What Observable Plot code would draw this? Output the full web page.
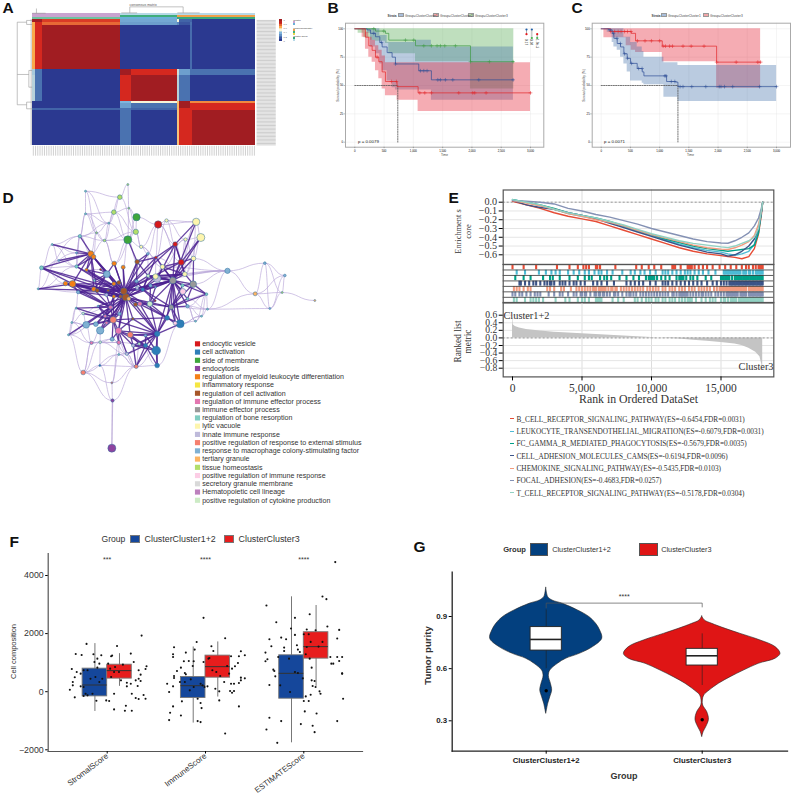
<!DOCTYPE html>
<html><head><meta charset="utf-8">
<script src="https://cdn.jsdelivr.net/npm/d3@7"></script>
<script src="https://cdn.jsdelivr.net/npm/@observablehq/plot@0.6"></script>
<style>
html,body{margin:0;padding:0;background:#fff}
#root{position:relative;width:792px;height:796px;overflow:hidden;font-family:"Liberation Sans",Arial,sans-serif}
#root svg{position:absolute;overflow:visible}
.sw{position:absolute;box-sizing:border-box}
</style></head><body><div id="root"></div>
<script>
// ---------- A: consensus matrix ----------
const heatXEdges=[0,1.3,4.5,39.5,44.3,65,66,70.7,71.7,100];
const heatYEdges=[0,1.9,4.5,39.5,44.3,64.7,66.3,70.8,72.1,100];
const heatValues=[
[1,1,.82,.32,.32,.5,.15,.15,0],
[.65,.85,.75,.3,.3,.25,.1,.2,0],
[.65,.85,1,0,0,0,0,.18,0],
[.4,.2,0,1,.85,.45,.3,.2,.2],
[.42,.2,0,.85,1,.42,.2,0,0],
[0,0,0,.35,.5,.6,1,.7,.7],
[0,0,0,.3,.2,.62,1,.85,.85],
[.15,.15,.15,.2,.15,.62,.85,.85,.85],
[0,0,0,.2,0,.6,.85,.85,1]];
const heatDomain=[0,.2,.35,.5,.65,.85,1];
const heatColors=["#2b3990","#4a72b0","#7fb5dc","#f7f4d8","#f9a94b","#d5281f","#a11d22"];
const annotBands=[[0,39.5],[39.5,65],[65,100]];
const annotRows=[[-4.8,-3.4],[-3.4,-1.6],[-1.6,0]];
const annotColors=[["#c9a3d0","#b7d9e8","#b7d9e8"],["#c9a3d0","#3fae7c","#f0a04a"],["#6fc2a0","#6ab0d8","#3aa87a"]];
const leftDendro=[[-6.7,1.9,-6.7,67.6],[-6.7,1.9,-2.5,1.9],[-2.5,.5,-2.5,3.7],[-2.5,.5,0,.5],[-2.5,3.7,0,3.7],[-6.7,43.5,-1.5,43.5],[-1.5,40.3,-1.5,53.6],[-1.5,40.3,0,40.3],[-1.5,53.6,0,53.6],[-6.7,67.6,-2.5,67.6],[-2.5,65.5,-2.5,70.8],[-2.5,65.5,0,65.5],[-2.5,70.8,0,70.8]];
const topDendro=[[43.7,-10.3,67.6,-10.3],[43.7,-10.3,43.7,-5.5],[67.6,-10.3,67.6,-5.5],[39.9,-5.5,47,-5.5],[65,-5.5,70.1,-5.5],[1.9,-9,1.9,-5.2],[0,-5.2,6,-5.2],[70.1,-5.5,75,-5.5]];
const rowIds=d3.range(0.5,100,1.1);
const colIds=d3.range(0.5,100,1);
const heatLegendVals=[1,.8,.6,.4,.2,0];
const heatLegendStops=[1,.92,.85,.75,.65,.55,.5,.42,.35,.27,.2,.1,0];
// ---------- B, C: survival ----------
const kmTicks=[0,500,1000,1500,2000,2500,3000];
const kmYTicks=[0,25,50,75,100];
const bBlueT=[0,211,267,353,427,467,552,637,694,1036,1092,1308,2708];
const bBlueS=[100,99,96,93,88,84,79,75,69,69,63,55,55];
const bBlueHi=[100,100,100,100,94,94,88,88,88,90,90,84,84];
const bBlueLo=[100,96,84,78,69,63,54,48,46,46,46,37,37];
const bBlueCens=[324,455,694,1121,1178,1234,1417,1462,1547,1673,2117,2703];
const bRedT=[0,125,182,239,296,353,410,467,523,722,1081,3000];
const bRedS=[100,100,92.6,85,81,75,71,62,53.5,49,43.5,43.5];
const bRedHi=[100,100,97,92.6,90,85,81,76,70,70,70,70];
const bRedLo=[100,92.6,82,75,70.6,63,56,47,41,37,27,27];
const bRedCens=[381,626,711,1110,1195,1309,1775,2014,2048,2242,3000];
const bGreenT=[0,57,154,268,353,523,580,1036,1975,2715];
const bGreenS=[100,100,100,100,98,96,90,85,71,71];
const bGreenHi=[100,100,100,100,100,100,100,100,100,100];
const bGreenLo=[100,96,92,90,89,87,78,71,47,47];
const bGreenCens=[324,495,865,1007,1178,1309,1405,1462,1536,1718,1975,2299,2703];
const cRedT=[0,46,160,388,428,514,588,1045,1975,2728];
const cRedS=[100,100,97.6,97.6,97.6,96,89.4,84.7,70.6,70.6];
const cRedHi=[100,100,100,100,100,100,100,100,100,100];
const cRedLo=[100,92,92,92,85,81,79,71,47.6,47.6];
const cRedCens=[160,230,290,340,400,450,510,620,750,860,1000,1060,1100,1170,1220,1400,1540,1760,1975,2310,2680,2728];
const cBlueT=[0,103,131,188,217,274,331,388,445,502,616,702,731,1073,1119,1273,1313,3002];
const cBlueS=[100,100,99,96,91.6,87,84,78,74,69.5,65,62,58.5,58.5,53.5,53,49,49];
const cBlueHi=[100,100,100,100,100,100,100,92.6,92.6,88,84,80,75,70,70,70,67.6,67.6];
const cBlueLo=[100,97,97,88,84,81,75,69,62,54,54,52,50.6,39.7,39.7,39.7,36,36];
const cBlueCens=[150,210,270,330,400,450,520,640,700,1090,1110,1200,1260,1350,1400,1550,1790,2020,2050,2110,2250,2710,3000];
// ---------- D: enrichment network ----------
const termNames=["endocytic vesicle","cell activation","side of membrane","endocytosis","regulation of myeloid leukocyte differentiation","inflammatory response","regulation of cell activation","regulation of immune effector process","immune effector process","regulation of bone resorption","lytic vacuole","innate immune response","positive regulation of response to external stimulus","response to macrophage colony-stimulating factor","tertiary granule","tissue homeostasis","positive regulation of immune response","secretory granule membrane","Hematopoietic cell lineage","positive regulation of cytokine production"];
const termColors=["#d7191c","#2e7eb8","#3fa63c","#8e44a0","#f47f16","#f5e642","#a65628","#e377b0","#999999","#80cdc1","#fdf5ad","#bebada","#f5806f","#80b1d3","#fdb462","#b3de69","#fccde5","#d9d9d9","#bc80bd","#ccebc5"];
const nodes=[
[225,2,3,9],[352,-18,3,15],[328,20,7,15],[355,53,3,15],[310,65,7,15],[225,70,3,9],[378,80,11,2],[443,102,11,0],[557,94,11,10],[468,90,5,10],
[376,124,8,15],[295,98,3,9],[258,127,3,15],[352,148,12,2],[282,150,4,15],[208,137,5,9],[571,141,12,10],[525,147,5,10],[494,161,7,0],[392,169,5,10],
[125,162,3,9],[241,190,9,4],[249,199,7,4],[198,187,3,13],[436,201,4,0],[412,190,4,13],[549,204,7,10],[512,215,9,0],[145,210,3,13],[93,232,6,9],
[198,228,5,9],[228,238,5,4],[311,219,7,4],[338,230,6,4],[380,214,7,6],[456,229,7,10],[523,251,7,10],[651,241,8,13],[413,256,5,19],[435,258,8,10],
[440,265,11,11],[763,218,4,13],[823,255,4,13],[734,310,6,14],[815,306,3,15],[778,354,3,13],[913,330,3,14],[591,356,3,9],[588,311,4,9],[83,295,3,9],
[165,279,7,4],[186,280,10,4],[203,305,5,13],[289,251,10,13],[270,237,3,0],[252,270,3,9],[325,276,6,6],[310,280,6,4],[250,296,7,4],[260,300,6,6],
[293,300,4,6],[340,302,10,6],[346,320,11,6],[330,318,5,6],[310,318,5,4],[355,325,6,14],[288,313,5,11],[375,342,6,6],[388,340,7,7],[418,340,8,19],
[434,331,3,0],[397,297,5,1],[378,272,5,13],[380,292,5,11],[420,285,5,13],[435,290,3,13],[487,270,10,8],[548,281,10,8],[516,285,5,9],[517,303,9,16],
[531,325,4,9],[482,350,7,8],[531,347,5,13],[470,382,7,1],[509,400,12,1],[494,398,6,16],[555,392,3,9],[573,377,3,9],[440,430,8,1],[437,480,13,1],
[405,465,6,1],[440,525,7,1],[377,528,6,12],[218,546,7,12],[268,525,3,1],[304,577,3,12],[306,630,5,3],[304,773,12,3],[300,350,6,7],[197,353,3,9],
[263,347,3,13],[218,369,4,19],[308,388,10,12],[284,377,5,7],[327,370,5,13],[367,385,4,6],[184,396,3,9],[227,403,10,13],[256,401,7,13],[288,397,5,7],
[269,420,11,13],[324,421,10,7],[359,433,9,12],[174,433,3,9],[243,457,5,7],[269,455,4,19],[305,446,6,13],[325,456,6,7],[349,490,5,11],[325,492,3,9],
[368,465,5,11],[386,460,4,19],[405,435,4,13]];
const strongHubs=[
[62,[51,52,57,58,59,60,64,66,98,100,103,104,105,108,109,111,112,68,69,71,73,76,81,83,88,34,32,33,53,56,50,67,72,74,102,110,29,30,31,21]],
[61,[50,51,55,31,21,30,53,32,33,34,72,74,76,38,39,98,102,111,83,71,58,52,29,49,22,27,18,24,25]],
[76,[77,78,79,80,81,82,84,83,27,26,36,18,48,71,75,74,88,85,38,35,73,69,16,40,39,8,24]],
[88,[83,84,89,90,91,105,112,120,121,122,102,111,69,81,68,67]],
[102,[98,103,107,108,109,110,111,116,117,99,101,100,104,105,64]],
[98,[52,99,100,107,108,110,51,58,64,66,50,113]],
[81,[77,82,84,85,71,69,80,48,78,79]],
[21,[29,20,28,23,30,31,53,22,58,51,59]],[22,[15,30,31]],[51,[49,50,52,29,58,59,57]],[27,[16,18,35,36,26]],[18,[8,24,36,40]],[34,[24,25,13,38,72]],[89,[91,90,120,122]],[92,[90,88,120]],[53,[55,31,54,32,58,59]],[77,[48,36,78,26,80]],[111,[116,117,112,105,90,118,120]],[112,[120,121,90,122]],
[58,[59,60,64,57,52]],[64,[66,57,60,103]],[71,[72,73,74,75,38,39,40,24,70]],[69,[70,67,68,74,75,83]],[83,[84,85,105]],[103,[109,100,104]],[90,[118,120,121,91,122]],[36,[39,40,38,35]],[40,[35,38,39]]];
const weakEdges=[[0,5],[0,2],[0,11],[1,2],[1,3],[2,4],[3,4],[2,11],[4,5],[5,11],[4,11],[5,12],[11,12],[12,14],[14,15],[15,5],[14,4],[4,10],[3,6],[10,14],[10,13],[6,7],[7,9],[9,8],[8,16],[8,7],[7,18],[9,18],[18,17],[17,16],[16,26],[17,26],[27,26],[8,27],[6,10],[13,19],[19,10],[19,25],[25,7],[7,24],[35,24],[35,39],[39,36],[36,37],[26,37],[37,40],[37,41],[37,43],[41,42],[41,43],[41,45],[42,43],[42,45],[43,44],[44,45],[43,45],[44,46],[43,47],[47,48],[37,77],[20,29],[20,28],[28,29],[20,23],[23,15],[28,30],[29,49],[49,50],[29,30],[21,28],[15,23],[13,32],[13,34],[14,32],[12,22],[54,31],[55,31],[52,99],[99,106],[106,113],[107,113],[107,106],[99,101],[101,107],[113,114],[114,115],[115,116],[116,117],[114,93],[93,94],[94,92],[93,95],[92,95],[95,96],[96,93],[96,92],[118,119],[119,92],[118,92],[120,92],[117,118],[120,121],[89,90],[87,86],[86,84],[87,82],[47,82],[47,87],[48,82],[48,77],[80,48],[84,91],[85,83],[64,60],[11,15],[14,13],[15,21],[23,30],[12,15],[19,35],[24,39],[25,38],[35,36],[16,36],[18,36],[17,36],[27,36],[37,38],[35,37],[100,101],[101,98],[106,107],[108,113],[110,114],[114,116],[115,117],[116,118],[118,90],[119,117],[93,114],[93,115],[92,117],[92,121],[94,115],[86,82],[47,81],[87,84],[33,13],[32,14],[10,19],[96,94],
[0,12],[5,14],[2,10],[3,10],[3,13],[4,13],[11,14],[11,13],[12,21],[14,21],[15,29],[15,30],[5,15],[23,29],[20,30],[20,15],[28,49],[49,52],[49,30],[50,29],[10,32],[19,24],[6,13],[7,19],[7,27],[9,17],[9,24],[8,17],[8,26],[16,27],[17,27],[17,35],[26,36],[26,35],[24,36],[37,39],[37,47],[41,44],[42,44],[45,47],[48,87],[48,86],[47,80],[82,86],[84,87],[99,113],[106,114],[101,106],[107,114],[110,115],[93,113],[93,119],[94,119],[95,119],[95,117],[92,118],[92,119],[117,121],[118,121],[115,118],[91,121],[91,92],[89,92],[114,117]];
const lineageEdge=[[96,97]];
// ---------- E: GSEA ----------
const gseaTerms=["B_CELL_RECEPTOR_SIGNALING_PATHWAY(ES=-0.6454,FDR=0.0031)","LEUKOCYTE_TRANSENDOTHELIAL_MIGRATION(ES=-0.6079,FDR=0.0031)","FC_GAMMA_R_MEDIATED_PHAGOCYTOSIS(ES=-0.5679,FDR=0.0035)","CELL_ADHESION_MOLECULES_CAMS(ES=-0.6194,FDR=0.0096)","CHEMOKINE_SIGNALING_PATHWAY(ES=-0.5435,FDR=0.0103)","FOCAL_ADHESION(ES=-0.4683,FDR=0.0257)","T_CELL_RECEPTOR_SIGNALING_PATHWAY(ES=-0.5178,FDR=0.0304)"];
const gseaColors=["#e64b35","#4dbbd5","#00a087","#3c5488","#f39b7f","#8491b4","#91d1c2"];
const esRanks=[0,1000,2000,3000,4000,5000,6000,7000,8000,9000,10000,11000,12000,13000,14000,15000,15500,16000,16500,17000,17400,17700,17900,18000];
const esBcell=[.01,-.03,-.07,-.12,-.16,-.19,-.22,-.27,-.32,-.37,-.42,-.47,-.52,-.56,-.59,-.61,-.62,-.63,-.645,-.62,-.53,-.36,-.15,0];
const esLeuko=[.03,0,-.04,-.08,-.13,-.16,-.19,-.23,-.28,-.33,-.38,-.43,-.48,-.52,-.55,-.57,-.59,-.605,-.59,-.56,-.48,-.32,-.12,0];
const esFc=[.03,0,-.03,-.07,-.12,-.15,-.18,-.22,-.27,-.32,-.37,-.42,-.46,-.5,-.53,-.55,-.56,-.55,-.54,-.53,-.49,-.35,-.12,0];
const esCam=[.02,-.03,-.06,-.08,-.12,-.15,-.19,-.24,-.29,-.34,-.39,-.44,-.49,-.53,-.57,-.59,-.615,-.6,-.56,-.5,-.42,-.3,-.12,0];
const esChemo=[.02,-.01,-.04,-.08,-.13,-.16,-.2,-.23,-.27,-.32,-.37,-.41,-.45,-.49,-.52,-.535,-.54,-.52,-.49,-.45,-.38,-.25,-.1,0];
const esFocal=[.02,.01,0,-.02,-.07,-.1,-.14,-.17,-.21,-.25,-.3,-.34,-.38,-.42,-.45,-.465,-.468,-.44,-.4,-.35,-.27,-.18,-.07,0];
const esTcell=[.03,0,-.03,-.08,-.12,-.15,-.18,-.22,-.26,-.31,-.36,-.4,-.44,-.47,-.49,-.51,-.518,-.5,-.47,-.44,-.4,-.3,-.1,0];
const esSeries=[esBcell,esLeuko,esFc,esCam,esChemo,esFocal,esTcell];
// gene-hit positions, rank / 100
const hits=[
[0,8,17,32,41,47,51,53,55,60,61,63,74,89,93,98,102,107,115,116,117,121,126,127,128,129,131,134,137,140,144,149,153,157,161,165,168,170,173,175,177,178,179,180],
[3,9,19,24,28,31,34,40,44,48,52,55,59,62,64,68,72,79,85,88,92,95,99,103,108,110,112,115,118,121,124,126,128,131,134,137,141,146,152,153,154,155,156,157,158,159,160,161,162,163,164,166,167,168,170,171,173,175,176,177,178,179,180],
[2,8,13,22,27,29,34,41,47,52,55,57,63,66,68,71,77,82,87,91,96,98,99,100,101,102,104,107,110,113,118,120,121,122,123,125,128,130,133,139,143,150,151,152,153,154,155,156,158,160,161,162,163,164,165,166,167,168,169,170,171,172,173,174,175,176,177,178,179,180],
[5,6,9,12,15,17,20,23,25,27,28,30,34,36,38,41,44,46,49,52,58,61,64,68,73,82,85,88,91,94,99,103,108,110,112,115,118,121,124,127,130,133,136,140,144,147,150,152,154,156,157,158,159,160,161,162,163,164,165,166,167,168,169,170,171,172,173,174,175,176,177,178,179,180],
[1,3,5,8,11,13,25,27,30,35,37,42,46,48,50,52,54,56,58,59,60,62,63,64,65,66,67,69,71,72,74,75,78,80,82,84,86,88,90,92,94,97,99,101,103,105,108,110,113,115,117,120,122,124,127,129,131,134,136,138,140,142,145,147,149,150,151,152,153,154,155,156,157,158,159,160,161,162,163,164,165,166,167,168,170,171,172,173,174,175,176,177,178,179,180],
[0,2,5,7,10,13,16,18,20,26,30,34,36,40,44,46,49,50,52,53,56,59,60,62,63,65,66,68,70,73,74,76,79,82,84,85,87,89,92,94,96,98,100,102,104,106,108,110,112,115,116,118,120,121,122,123,124,125,126,128,130,132,134,136,137,139,141,143,146,148,150,152,154,155,156,157,158,159,160,161,162,164,165,166,167,168,170,171,172,173,174,175,176,177,178,179,180],
[1,3,9,13,15,17,19,22,31,38,41,47,50,52,55,60,61,62,63,64,72,76,80,88,90,93,96,98,100,103,105,108,110,113,115,117,120,122,124,126,127,128,129,132,136,139,142,144,146,150,152,153,155,157,158,159,160,161,163,164,165,166,167,168,169,170,171,172,173,174,175,176,177,178,179,180]];
const metricRanks=[0,50,200,500,1000,2000,3000,4000,5000,6000,7000,8000,9000,10000,10500,11000,12000,13000,14000,15000,16000,16500,17000,17500,17800,17950,18000];
const metricVals=[.62,.35,.3,.26,.22,.18,.15,.13,.11,.09,.07,.05,.03,.01,0,-.01,-.03,-.06,-.09,-.12,-.16,-.2,-.27,-.38,-.5,-.72,-.78];
// ---------- F: immune scores ----------
const scoreNames=["StromalScore","ImmuneScore","ESTIMATEScore"];
const groupNames=["ClusterCluster1+2","ClusterCluster3"];
const groupColors=["#15479b","#e71d1d"];
const violinColors=["#03407f","#df1515"];
const sigF=["***","****","****"];
// q1,q3,median,whiskerLow,whiskerHigh per score
const boxBlue=[[-161,794,230,-680,1656],[-218,506,207,-1080,1540],[-241,1253,632,-1760,3266]];
const boxRed=[[450,930,725,184,1310],[483,1242,862,-184,1713],[1138,2047,1552,184,2967]];
const stromalPts=[[-21,1645],[-32,1300],[-26,1265],[-36,782],[-31,678],[-35,333],[-33,495],[-35,218],[-38,69],[-33,-195],[-27,621],[-24,736],[-20,736],[-27,184],[-24,161],[-22,-69],[-24,-150],[-20,-126],[-15,-69],[-11,-310],[-14,1288],[-10,1138],[-13,1023],[-8,966],[-6,1253],[-10,828],[-17,448],[-12,506],[-8,333],[-5,448],[-1,-299],[2,-322],[7,-610],[18,-655],[19,-483],[25,-655],[10,1575],[5,1242],[4,1219],[1,966],[3,794],[8,851],[16,931],[12,678],[7,678],[27,1023],[24,1311],[35,1932],[40,874],[39,782],[32,736],[34,587],[32,448],[34,368],[29,391],[24,276],[20,310],[20,184],[31,195],[25,-69],[7,-69],[29,-218],[32,-253],[37,-115],[39,-241],[14,391],[4,506]];
const immunePts=[[-32,1530],[-33,1288],[-33,1196],[-20,1346],[-11,1449],[-9,1713],[-2,2542],[6,1564],[8,1403],[20,1840],[26,1219],[34,1219],[36,1392],[40,1253],[33,989],[30,874],[27,794],[36,483],[40,460],[36,391],[34,299],[29,276],[26,276],[19,333],[10,104],[14,12],[25,23],[29,23],[27,-35],[14,-299],[34,-506],[20,-1438],[-5,-1047],[-8,-1012],[-4,-564],[-5,-391],[-24,-333],[-8,-241],[-33,-506],[-36,-725],[-25,-817],[-37,-978],[-39,276],[-37,-12],[-32,540],[-32,472],[-33,184],[-29,713],[-25,828],[-22,1046],[-17,1058],[-13,885],[-12,1046],[-20,598],[-21,644],[-15,425],[-21,333],[-26,333],[-16,46],[-12,161],[-5,276],[-3,218],[-1,161],[2,184],[3,1138],[4,1161],[-2,1023],[7,736],[11,678],[15,540],[22,885],[24,621]];
const estimatePts=[[-38,2967],[-28,2392],[-35,1805],[-23,1863],[-33,1564],[-39,1346],[-37,1115],[-39,1046],[-26,1196],[-20,1518],[-20,1403],[-18,1805],[-13,2174],[-9,2542],[-9,1955],[-7,1599],[-6,1449],[-4,1369],[-15,1138],[-31,759],[-30,713],[-29,529],[-35,230],[-24,218],[-9,678],[-6,644],[-1,460],[-14,-12],[-35,-897],[-23,-1012],[-38,-1300],[-27,-1760],[-3,-1115],[9,-1173],[11,-1392],[13,-748],[1,-679],[5,-322],[0,-322],[2,-161],[7,-104],[16,12],[17,-69],[12,161],[9,195],[8,391],[11,368],[8,828],[6,1138],[2,1288],[3,1541],[0,1978],[3,2139],[12,2116],[6,2668],[19,3277],[23,3186],[32,4462],[24,2243],[36,2128],[34,1829],[15,1553],[19,1714],[7,1714],[5,1978],[28,966],[30,966],[34,1196],[39,1196],[36,1058],[27,1196],[39,621],[39,630],[40,-241],[34,-1012]];
// ---------- G: tumor purity ----------
const vio1P=[1.065,1.03,1.011,.992,.973,.935,.896,.858,.819,.772,.724,.685,.657,.628,.589,.557,.513,.474,.436,.398,.34];
const vio1W=[0,.006,.013,.04,.107,.203,.278,.32,.346,.359,.3,.214,.128,.075,.026,.017,.03,.038,.026,.013,0];
const vio2P=[.9,.877,.858,.829,.8,.762,.724,.685,.657,.628,.589,.551,.513,.474,.446,.417,.388,.35,.306,.264,.235,.206];
const vio2W=[0,.017,.064,.15,.246,.374,.47,.502,.47,.363,.267,.182,.107,.047,.013,.004,.006,.032,.043,.026,.009,0];
// q1,q3,median,whiskerLow,whiskerHigh,outlier
const purityStats=[[.704,.839,.768,.6,.938,.473],[.618,.714,.674,.503,.8,.306]];

const root=document.getElementById("root");
const SANS='"Liberation Sans",Arial,sans-serif', SERIF='"Liberation Serif","Times New Roman",serif';
function place(opts,left,top){
  const p=Plot.plot({style:{background:"transparent",fontFamily:SANS},...opts});
  p.style.left=left+"px";p.style.top=top+"px";root.appendChild(p);return p;
}
function zipS(t,s,hi,lo){return t.map((d,i)=>({t:d,s:s[i],hi:hi[i],lo:lo[i]}));}
function stepAt(t,s,x){let v=s[0];t.forEach((d,i)=>{if(d<=x)v=s[i];});return v;}
function swatch(x,y,w,h,c,st){const e=document.createElement("div");e.className="sw";
  e.style.cssText=`left:${x}px;top:${y}px;width:${w}px;height:${h}px;background:${c};${st?`border:${st};`:""}`;root.appendChild(e);}

// A ---------------------------------------------------------
const heatCells=heatValues.flatMap((row,r)=>row.map((v,c)=>({x1:heatXEdges[c],x2:heatXEdges[c+1],y1:heatYEdges[r],y2:heatYEdges[r+1],v})));
const annotCells=annotRows.flatMap((yy,r)=>annotBands.map((xx,c)=>({x1:xx[0],x2:xx[1],y1:yy[0],y2:yy[1],fill:annotColors[r][c]})));
place({width:340,height:180,margin:0,axis:null,
 x:{domain:[0,100],range:[31.7,255]},y:{domain:[0,100],range:[19.3,145]},
 color:{type:"linear",domain:heatDomain,range:heatColors,interpolate:"rgb"},
 marks:[
  Plot.rect(heatCells,{x1:"x1",x2:"x2",y1:"y1",y2:"y2",fill:"v",shapeRendering:"crispEdges"}),
  Plot.rect(annotCells,{x1:"x1",x2:"x2",y1:"y1",y2:"y2",fill:d=>d.fill,shapeRendering:"crispEdges"}),
  Plot.rect(heatLegendStops,{x1:()=>110.7,x2:()=>111.9,y1:(d,i)=>i*17/heatLegendStops.length,y2:(d,i)=>(i+1)*17/heatLegendStops.length,fill:d=>d,shapeRendering:"crispEdges"}),
  Plot.text(heatLegendVals,{x:()=>112.5,y:(d,i)=>i*3.4,text:d=>String(d),fontSize:2.4,fill:"#555",textAnchor:"start"}),
  Plot.ruleY(rowIds,{x1:()=>100.7,x2:()=>109.3,stroke:"#c8c8c8",strokeWidth:.9}),
  Plot.ruleX(colIds,{y1:()=>100.6,y2:()=>108.5,stroke:"#c4c4c4",strokeWidth:.8}),
  Plot.ruleX([-.45],{y1:0,y2:100,stroke:"#ccc",strokeWidth:1.2}),
  Plot.link(leftDendro,{x1:d=>d[0],y1:d=>d[1],x2:d=>d[2],y2:d=>d[3],stroke:"#999",strokeWidth:.6}),
  Plot.link(topDendro,{x1:d=>d[0],y1:d=>d[1],x2:d=>d[2],y2:d=>d[3],stroke:"#999",strokeWidth:.6})
 ]},0,0);

// KM helper --------------------------------------------------
function km(left,top,w,h,xr,box,series,medianT,medianS){
 const marks=[Plot.gridX(kmTicks,{stroke:"#e6e6e6",strokeOpacity:1,strokeWidth:.4}),Plot.gridY(kmYTicks,{stroke:"#e6e6e6",strokeOpacity:1,strokeWidth:.4})];
 series.forEach(s=>{
  const d=zipS(s.t,s.s,s.hi,s.lo);
  marks.push(Plot.areaY(d,{x:"t",y1:"lo",y2:"hi",fill:s.color,fillOpacity:.36,curve:"step-after"}));
 });
 marks.push(Plot.line([[0,medianS],[medianT,medianS],[medianT,0]],{x:d=>d[0],y:d=>d[1],stroke:"#555",strokeWidth:.8,strokeDasharray:"1.2,1.2"}));
 series.forEach(s=>{
  const d=zipS(s.t,s.s,s.hi,s.lo);
  marks.push(Plot.line(d,{x:"t",y:"s",stroke:s.line,strokeWidth:.7,curve:"step-after"}));
  marks.push(Plot.dot(s.cens,{x:d=>d,y:d=>stepAt(s.t,s.s,d),symbol:"plus",r:1.3,stroke:s.line,strokeWidth:.5}));
 });
 marks.push(Plot.frame({stroke:"#aaa",strokeWidth:1}));
 marks.push(Plot.axisX({ticks:kmTicks,tickSize:1.5,fontSize:2.8,tickPadding:1,label:null,stroke:"#555",strokeWidth:.4}));
 marks.push(Plot.axisY({ticks:kmYTicks,tickSize:1.5,fontSize:2.8,tickPadding:1,label:null,stroke:"#555",strokeWidth:.4}));
 place({width:w,height:h,marginLeft:box[0],marginRight:w-box[1],marginTop:box[2],marginBottom:h-box[3],
  x:{domain:[0,3000],range:xr},y:{domain:[0,100],range:[141.7,28.3]},marks},left,top);
}
const KMB="#2f4f96",KMR="#e2262a",KMG="#3e9a42";
km(320,0,240,170,[34.3,210],[25,223.3,22.7,146.7],[
 {t:bGreenT,s:bGreenS,hi:bGreenHi,lo:bGreenLo,cens:bGreenCens,color:"#4da64a",line:KMG},
 {t:bBlueT,s:bBlueS,hi:bBlueHi,lo:bBlueLo,cens:bBlueCens,color:"#3f6fa8",line:KMB},
 {t:bRedT,s:bRedS,hi:bRedHi,lo:bRedLo,cens:bRedCens,color:"#e41a2c",line:KMR}],734,50);
km(560,0,232,170,[40.7,216],[31.7,230,22.7,146.7],[
 {t:cRedT,s:cRedS,hi:cRedHi,lo:cRedLo,cens:cRedCens,color:"#e41a2c",line:KMR},
 {t:cBlueT,s:cBlueS,hi:cBlueHi,lo:cBlueLo,cens:cBlueCens,color:"#3f6fa8",line:KMB}],1313,50);
// B pairwise p-value table
const pairX=[0,1,2];
place({width:240,height:170,margin:0,axis:null,x:{domain:[0,2],range:[206,216.7]},y:{domain:[0,1],range:[29,37.5]},
 marks:[
  Plot.ruleX(pairX,{x:d=>d,y1:(d,i)=>[0,0,.55][i],y2:(d,i)=>[.55,1,1][i],stroke:"#888",strokeWidth:.7}),
  Plot.dot([[0,0],[1,0]],{x:d=>d[0],y:d=>d[1],r:1.1,fill:"#1f5fa8"}),
  Plot.dot([[0,.55],[2,.55]],{x:d=>d[0],y:d=>d[1],r:1.1,fill:"#e41a1c"}),
  Plot.dot([[1,1],[2,1]],{x:d=>d[0],y:d=>d[1],r:1.1,fill:"#3fae49"})
 ]},320,0);

// D ---------------------------------------------------------
const strongEdges=strongHubs.flatMap(([h,l])=>l.map(n=>[h,n]));
const edgeCh={x1:e=>nodes[e[0]][0],y1:e=>nodes[e[0]][1],x2:e=>nodes[e[1]][0],y2:e=>nodes[e[1]][1]};
place({width:360,height:345,margin:0,axis:null,
 x:{domain:[0,1020],range:[0,340]},y:{domain:[0,960],range:[15,335]},r:{type:"identity"},
 marks:[
  Plot.link(weakEdges,{...edgeCh,curve:"bump-x",stroke:"#b7a3d8",strokeWidth:.8,strokeOpacity:.8}),
  Plot.link(lineageEdge,{...edgeCh,stroke:"#c3b4dc",strokeWidth:1.4}),
  Plot.link(strongEdges,{...edgeCh,stroke:"#4b2190",strokeWidth:1.3,strokeOpacity:.85}),
  Plot.dot(nodes,{x:d=>d[0],y:d=>d[1],r:d=>d[2]/3,fill:d=>termColors[d[3]],stroke:"#2f6f9f",strokeWidth:.5}),
  Plot.dot(termNames,{x:()=>561,y:(d,i)=>460+i*24.7,symbol:"square",r:2.9,fill:(d,i)=>termColors[i]}),
  Plot.text(termNames,{x:()=>575,y:(d,i)=>460+i*24.7,text:d=>d,textAnchor:"start",fontSize:7.1,fill:"#333"})
 ]},10,175);

// E ---------------------------------------------------------
const eW=352,eXr=[72,322.2];
const esData=esSeries.flatMap((s,k)=>s.map((v,i)=>({r:esRanks[i],v,k})));
place({width:eW,height:84,marginLeft:62.7,marginRight:18.7,marginTop:9.5,marginBottom:0,
 x:{domain:[0,18000],range:eXr,axis:null},y:{domain:[0,-.6],range:[21.7,74.3]},
 marks:[
  Plot.gridX([5000,10000,15000],{stroke:"#ddd",strokeOpacity:1}),
  Plot.gridY([0,-.1,-.2,-.3,-.4,-.5,-.6],{stroke:"#e5e5e5",strokeOpacity:1}),
  Plot.ruleY([0],{stroke:"#999",strokeDasharray:"2,2"}),
  ...gseaColors.map((c,k)=>Plot.line(esData.filter(d=>d.k===k),{x:"r",y:"v",stroke:c,strokeWidth:1.4})),
  Plot.frame({stroke:"#555",strokeWidth:1.2}),
  Plot.axisY({ticks:[0,-.1,-.2,-.3,-.4,-.5,-.6],tickFormat:d3.format(".1f"),tickSize:4,tickPadding:2,label:null,fontSize:10.2,fontFamily:SERIF,fill:"#333"})
 ]},440,180);
const hitData=hits.flatMap((h,k)=>h.map(v=>({r:v*100,k})));
place({width:eW,height:38.3,marginLeft:62.7,marginRight:18.7,marginTop:0,marginBottom:0,axis:null,
 x:{domain:[0,18000],range:eXr},y:{domain:[0,7],range:[0,38.3]},
 marks:[
  Plot.ruleX(hitData,{x:"r",y1:d=>d.k+.05,y2:d=>d.k+.95,stroke:d=>gseaColors[d.k],strokeWidth:2.1}),
  Plot.ruleY(d3.range(0,8),{stroke:"#333",strokeWidth:.8}),
  Plot.frame({stroke:"#555",strokeWidth:1.2})
 ]},440,264);
const metricData=metricRanks.map((r,i)=>({r,v:metricVals[i]}));
place({width:eW,height:112,marginLeft:62.7,marginRight:18.7,marginTop:0,marginBottom:37.6,
 x:{domain:[0,18000],range:eXr},y:{domain:[.6,-.8],range:[12.7,65.7]},
 marks:[
  Plot.gridX([5000,10000,15000],{stroke:"#ddd",strokeOpacity:1}),
  Plot.gridY([-.8,-.6,-.4,-.2,0,.2,.4,.6],{stroke:"#e5e5e5",strokeOpacity:1}),
  Plot.areaY(metricData,{x:"r",y1:()=>0,y2:"v",fill:"#c4c4c4"}),
  Plot.ruleY([0],{stroke:"#999",strokeDasharray:"2,2"}),
  Plot.frame({stroke:"#555",strokeWidth:1.2}),
  Plot.axisY({ticks:[-.8,-.6,-.4,-.2,0,.2,.4,.6],tickFormat:d3.format(".1f"),tickSize:4,tickPadding:2,label:null,fontSize:9.6,fontFamily:SERIF,fill:"#333"}),
  Plot.axisX({ticks:[0,5000,10000,15000],tickFormat:d3.format(","),tickSize:4,tickPadding:3,label:null,fontSize:11.5,fontFamily:SERIF,fill:"#333"})
 ]},440,302.3);

// F ---------------------------------------------------------
const fPoints=[stromalPts,immunePts,estimatePts].flatMap((l,c)=>l.map(p=>({x:c+p[0]/100,v:p[1]})));
const boxOf=(stats,off)=>stats.map((b,c)=>({c,l:c+off,r:c+off+.25,m:c+off+.125,q1:b[0],q3:b[1],med:b[2],lo:b[3],hi:b[4]}));
const fBoxes=[...boxOf(boxBlue,-.25).map(d=>({...d,g:0})),...boxOf(boxRed,0).map(d=>({...d,g:1}))];
place({width:390,height:266,marginLeft:47.7,marginRight:28,marginTop:23,marginBottom:45,
 x:{domain:[0,2],range:[106.7,303.3]},y:{domain:[4000,-2000],range:[45,219.3]},
 marks:[
  Plot.ruleX(fBoxes,{x:"m",y1:"lo",y2:"hi",stroke:"#777",strokeWidth:1}),
  Plot.rect(fBoxes,{x1:"l",x2:"r",y1:"q1",y2:"q3",fill:d=>groupColors[d.g],stroke:"#777",strokeWidth:.9}),
  Plot.ruleY(fBoxes,{x1:"l",x2:"r",y:"med",stroke:"#333",strokeWidth:1}),
  Plot.dot(fPoints,{x:"x",y:"v",r:1.05,fill:"#111"}),
  Plot.text(sigF,{x:(d,i)=>i,y:()=>4554,text:d=>d,fontSize:7,fill:"#333"}),
  Plot.frame({anchor:"left",stroke:"#555",strokeWidth:1.2}),
  Plot.frame({anchor:"bottom",stroke:"#555",strokeWidth:1.2}),
  Plot.axisY({ticks:[-2000,0,2000,4000],tickFormat:d3.format("d"),tickSize:2.5,tickPadding:2,label:null,fontSize:8.8,fill:"#333"}),
  Plot.axisX({ticks:[0,1,2],tickFormat:i=>scoreNames[i],tickRotate:-37,tickSize:2.5,tickPadding:1,label:null,fontSize:8,fill:"#333"})
 ]},0,530);

// G ---------------------------------------------------------
const vio=(P,W,c)=>P.map((p,i)=>({p,a:c-W[i],b:c+W[i]}));
const gBox=purityStats.map((s,c)=>({c,l:c-.1,r:c+.1,q1:s[0],q3:s[1],med:s[2],lo:s[3],hi:s[4],out:s[5]}));
const bracketX=[0,0,1,1],bracketP=[.95,.977,.977,.955];
place({width:392,height:266,marginLeft:51.7,marginRight:5,marginTop:41.7,marginBottom:45.3,
 x:{domain:[0,1],range:[145.7,301.7]},y:{domain:[.9,.3],range:[86,190.3]},
 marks:[
  Plot.areaX(vio(vio1P,vio1W,0),{y:"p",x1:"a",x2:"b",fill:violinColors[0],stroke:"#222",strokeWidth:.6,curve:"catmull-rom"}),
  Plot.areaX(vio(vio2P,vio2W,1),{y:"p",x1:"a",x2:"b",fill:violinColors[1],stroke:"#222",strokeWidth:.6,curve:"catmull-rom"}),
  Plot.ruleX(gBox,{x:"c",y1:"lo",y2:"hi",stroke:"#222",strokeWidth:.6}),
  Plot.rect(gBox,{x1:"l",x2:"r",y1:"q1",y2:"q3",fill:"#fff",stroke:"#222",strokeWidth:.9}),
  Plot.ruleY(gBox,{x1:"l",x2:"r",y:"med",stroke:"#222",strokeWidth:1.6}),
  Plot.dot(gBox,{x:"c",y:"out",r:1.7,fill:"#000"}),
  Plot.line(bracketX.map((x,i)=>({x,p:bracketP[i]})),{x:"x",y:"p",stroke:"#555",strokeWidth:.7}),
  Plot.text(["****"],{x:()=>.5,y:()=>1.011,text:d=>d,fontSize:7,fill:"#333"}),
  Plot.frame({anchor:"left",stroke:"#222",strokeWidth:1.3}),
  Plot.frame({anchor:"bottom",stroke:"#222",strokeWidth:1.3}),
  Plot.axisY({ticks:[.3,.6,.9],tickFormat:d3.format(".1f"),tickSize:3,tickPadding:2,label:null,fontSize:7.9,fontWeight:"bold",fill:"#222"}),
  Plot.axisX({ticks:[0,1],tickFormat:i=>groupNames[i],tickSize:3,tickPadding:3,label:null,fontSize:7.8,fontWeight:"bold",fill:"#222"})
 ]},400,530);

// Legend swatches (HTML) --------------------------------------
[[398,"#a9bedb"],[433,"#f2a6a8"],[468,"#b6d8ad"]].forEach(([x,c])=>swatch(x,12.5,5.5,4.5,c,".3px solid #999"));
[[661,"#a9bedb"],[703,"#f2a6a8"]].forEach(([x,c])=>swatch(x,12.5,5.5,4.5,c,".3px solid #999"));
swatch(130,535,9.5,8,groupColors[0],".6px solid #777");swatch(224,535,9.5,8,groupColors[1],".6px solid #777");
swatch(530,543,18,12.5,violinColors[0],".6px solid #555");swatch(639,543,18.5,12.5,violinColors[1],".6px solid #555");
[["#c9a3d0",21],["#6ab0d8",23]].forEach(([c,y])=>swatch(292.7,y,2.4,2,c));
[["#f0a04a",29],["#3fae7c",31],["#e8d44a",33]].forEach(([c,y])=>swatch(292.7,y,2.4,2,c));
[["#3aa87a",37],["#b7d9e8",39]].forEach(([c,y])=>swatch(292.7,y,2.4,2,c));
gseaColors.forEach((c,i)=>swatch(510,418.2+i*12.33,4,1,c));

// Text overlay --------------------------------------------------
function lab(t,x,y,o={}){return Plot.text([t],{text:d=>d,frameAnchor:"top-left",dx:x,dy:y,textAnchor:"start",lineAnchor:"middle",fill:"#333",fontFamily:SANS,...o});}
const letter=(t,x,y)=>lab(t,x,y,{fontSize:15.5,fontWeight:"bold",fill:"#111"});
const tiny={fontSize:3.2,fill:"#444"};
place({width:792,height:796,margin:0,axis:null,marks:[
 letter("A",2,8),letter("B",327,8),letter("C",571,8),letter("D",2,198),letter("E",448,198),letter("F",9,542),letter("G",413,547),
 // A
 lab("consensus matrix",129,4.5,{fontSize:3.5,fill:"#555"}),
 lab("Cluster",292.7,19.5,{fontSize:2.4}),lab("consensusCluster",292.7,27.3,{fontSize:2.4}),lab("Cluster group",292.7,35.5,{fontSize:2.4}),
 // B
 lab("Strata",387,15,{...tiny,fontWeight:"bold"}),lab("Group=ClusterCluster1",404.5,15,tiny),lab("Group=ClusterCluster2",439.5,15,tiny),lab("Group=ClusterCluster3",474.5,15,tiny),
 lab("Survival probability (%)",337,85,{...tiny,rotate:-90,textAnchor:"middle"}),lab("Time",444,154.5,{...tiny,textAnchor:"middle"}),
 lab("p = 0.0079",357.5,141.5,{fontSize:4.4,fill:"#222"}),
 lab("0.17",526,38.5,{fontSize:3.2,rotate:90}),
 lab("0.07",531,38.5,{fontSize:3.2,rotate:90}),
 lab("1.9e-3",536.7,38.5,{fontSize:3.2,rotate:90}),
 // C
 lab("Strata",651,15,{...tiny,fontWeight:"bold"}),lab("Group=ClusterCluster1",667.5,15,tiny),lab("Group=ClusterCluster3",709.5,15,tiny),
 lab("Survival probability (%)",583.5,85,{...tiny,rotate:-90,textAnchor:"middle"}),lab("Time",690,154.5,{...tiny,textAnchor:"middle"}),
 lab("p = 0.0071",603.5,141.5,{fontSize:4.4,fill:"#222"}),
 // E
 lab("Enrichment s\ncore",462,231,{fontSize:8.4,fontFamily:SERIF,rotate:-90,textAnchor:"middle",lineHeight:1.25}),
 lab("Ranked list\nmetric",462,341,{fontSize:9.3,fontFamily:SERIF,rotate:-90,textAnchor:"middle",lineHeight:1.15}),
 lab("Cluster1+2",503,315,{fontSize:10.3,fontFamily:SERIF}),
 lab("Cluster3",773,366,{fontSize:10.3,fontFamily:SERIF,textAnchor:"end"}),
 lab("Rank in Ordered DataSet",638,399,{fontSize:11.8,fontFamily:SERIF,textAnchor:"middle"}),
 ...gseaTerms.map((t,i)=>lab(t,516,418.7+i*12.33,{fontSize:7.3,fontFamily:SERIF})),
 // F
 lab("Cell composition",13,651,{fontSize:7.5,rotate:-90,textAnchor:"middle"}),
 lab("Group",101,539,{fontSize:8.6}),lab(groupNames[0],144,539,{fontSize:8.9}),lab(groupNames[1],238,539,{fontSize:8.9}),
 // G
 lab("Tumor purity",427.7,655,{fontSize:9.6,fontWeight:"bold",rotate:-90,textAnchor:"middle"}),
 lab("Group",623.5,776,{fontSize:9,fontWeight:"bold",textAnchor:"middle"}),
 lab("Group",502.7,549.5,{fontSize:7.6,fontWeight:"bold"}),lab(groupNames[0],551.7,549.5,{fontSize:7.3}),lab(groupNames[1],660.7,549.5,{fontSize:7.3})
]},0,0);
</script></body></html>
